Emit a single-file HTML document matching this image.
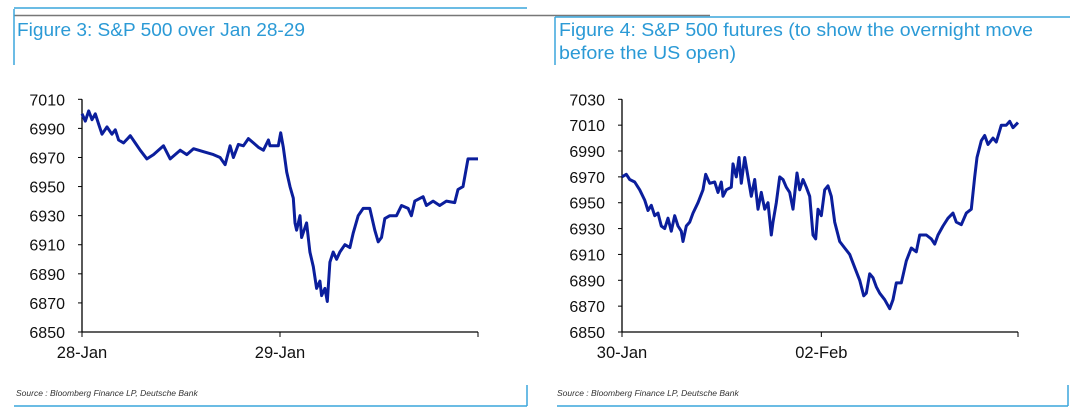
<!DOCTYPE html>
<html><head><meta charset="utf-8"><style>
body{margin:0;width:1080px;height:415px;background:#fff;overflow:hidden;font-family:"Liberation Sans",sans-serif}
svg{position:absolute;left:0;top:0}
.t{font-family:"Liberation Sans Narrow","Liberation Sans",sans-serif}
</style></head><body>
<svg id="s" width="1080" height="415">
<line x1="14" y1="8" x2="527" y2="8" stroke="#3aa6dc" stroke-width="1.5"/>
<line x1="14" y1="15.5" x2="710" y2="15.5" stroke="#777" stroke-width="1.5"/>
<line x1="14" y1="9" x2="14" y2="65" stroke="#3aa6dc" stroke-width="1.5"/>
<line x1="555" y1="17" x2="1070" y2="17" stroke="#3aa6dc" stroke-width="1.5"/>
<line x1="555" y1="17" x2="555" y2="65" stroke="#3aa6dc" stroke-width="1.5"/>
<text class="t" x="17" y="36" font-size="18" fill="#2b9ad6" textLength="288" lengthAdjust="spacingAndGlyphs">Figure 3: S&amp;P 500 over Jan 28-29</text>
<text class="t" x="559" y="36" font-size="18" fill="#2b9ad6" textLength="474" lengthAdjust="spacingAndGlyphs">Figure 4: S&amp;P 500 futures (to show the overnight move</text>
<text class="t" x="559" y="59" font-size="18" fill="#2b9ad6" textLength="177" lengthAdjust="spacingAndGlyphs">before the US open)</text>
<text x="16" y="396" font-size="8.5" font-style="italic" fill="#333">Source : Bloomberg Finance LP, Deutsche Bank</text>
<text x="557" y="396" font-size="8.5" font-style="italic" fill="#333">Source : Bloomberg Finance LP, Deutsche Bank</text>
<line x1="14" y1="406" x2="527" y2="406" stroke="#3aa6dc" stroke-width="1.5"/>
<line x1="527" y1="385" x2="527" y2="406" stroke="#3aa6dc" stroke-width="1.5"/>
<line x1="557" y1="406" x2="1068" y2="406" stroke="#3aa6dc" stroke-width="1.5"/>
<line x1="1068" y1="385" x2="1068" y2="406" stroke="#3aa6dc" stroke-width="1.5"/>
</svg>
<script>
const c1Times=[0,10,20,30,40,50,60,75,90,100,110,125,145,160,175,195,215,245,265,295,315,335,365,395,415,430,445,455,470,485,500,515,530,545,560,565,590,597,605,615,625,635,640,645,655,660,675,685,695,705,715,720,730,737,745,755,765,775,790,805,815,830,845,865,880,890,900,910,925,945,960,980,990,1000,1025,1035,1055,1075,1095,1120,1130,1145,1160,1190];
const c1Values=[7000,6995,7002,6996,7000,6993,6986,6991,6986,6989,6982,6980,6985,6980,6975,6969,6972,6978,6969,6975,6972,6976,6974,6972,6970,6965,6978,6970,6979,6978,6983,6980,6977,6975,6982,6978,6978,6987,6977,6960,6950,6942,6925,6920,6930,6915,6925,6905,6895,6880,6885,6875,6880,6871,6898,6905,6900,6905,6910,6908,6918,6930,6935,6935,6920,6912,6915,6928,6930,6930,6937,6935,6930,6940,6943,6937,6940,6937,6940,6939,6948,6950,6969,6969];
const c1Ticks=[6850,6870,6890,6910,6930,6950,6970,6990,7010];
const c1XLabels=["28-Jan","29-Jan"];const c1XLabelPos=[0,595];
const c2Times=[0,13,23,38,53,68,78,88,98,108,118,128,138,148,158,168,178,183,193,203,213,228,243,251,263,278,288,298,303,313,328,333,343,351,358,368,378,388,398,408,418,428,438,448,453,463,473,483,493,503,513,525,533,543,553,563,573,581,588,598,608,618,628,638,653,668,683,698,713,725,733,743,753,763,773,788,803,813,823,838,853,868,883,893,913,928,938,948,963,978,993,1003,1018,1033,1048,1058,1065,1078,1088,1098,1113,1123,1138,1153,1163,1173,1188];
const c2Values=[6970,6972,6968,6966,6960,6952,6944,6948,6940,6942,6932,6930,6938,6928,6940,6932,6928,6920,6932,6935,6942,6950,6960,6972,6965,6966,6958,6966,6955,6960,6962,6980,6970,6985,6965,6985,6970,6955,6968,6945,6958,6945,6950,6925,6935,6950,6970,6968,6962,6958,6945,6973,6960,6968,6962,6955,6925,6922,6945,6940,6960,6963,6955,6935,6920,6915,6910,6900,6890,6878,6880,6895,6892,6885,6880,6875,6868,6875,6888,6888,6905,6915,6912,6925,6925,6922,6918,6925,6932,6938,6942,6935,6933,6942,6945,6970,6985,6998,7002,6995,7000,6997,7010,7010,7013,7008,7012];
const c2Ticks=[6850,6870,6890,6910,6930,6950,6970,6990,7010,7030];
const c2XLabels=["30-Jan","02-Feb"];const c2XLabelPos=[0,598];
const NS="http://www.w3.org/2000/svg",svg=document.getElementById('s');
function mk(t,a){const e=document.createElementNS(NS,t);for(const k in a)e.setAttribute(k,a[k]);svg.appendChild(e);return e;}
function chart(id,times,vals,ticks,xl,xlp,x0,x1,tmax,y0,y1){
 const vmin=ticks[0],vmax=ticks[ticks.length-1];
 const sx=t=>x0+(t/tmax)*(x1-x0), sy=v=>y1-(v-vmin)/(vmax-vmin)*(y1-y0);
 let a=mk('line',{x1:x0,y1:y0,x2:x0,y2:y1,stroke:'#000','stroke-width':1.3});
 
 
 a=mk('line',{x1:x0,y1:y1,x2:x1,y2:y1,stroke:'#000','stroke-width':1.3});
 
 
 ticks.forEach(v=>{const y=sy(v);
  const l=mk('line',{x1:x0-4,y1:y,x2:x0,y2:y,stroke:'#000'});
  
  
  const t=mk('text',{x:x0-17,y:y+6,'font-size':16,'text-anchor':'end',fill:'#111'});t.textContent=v;
  
  });
 xl.forEach((s,i)=>{const x=sx(xlp[i]);
  const l=mk('line',{x1:x,y1:y1,x2:x,y2:y1+5,stroke:'#000'});
  
  
  const t=mk('text',{x:x,y:y1+26,'font-size':16.5,'text-anchor':'middle',fill:'#111'});t.textContent=s;
  
  });
 const l=mk('line',{x1:x1,y1:y1,x2:x1,y2:y1+5,stroke:'#000'});
 
 
 const p=mk('path',{d:times.map((t,i)=>(i?'L':'M')+sx(t).toFixed(1)+','+sy(vals[i]).toFixed(1)).join(''),fill:'none',stroke:'#0b1e9c','stroke-width':3,'stroke-linejoin':'round'});
 
 
}
chart('fig3',c1Times,c1Values,c1Ticks,c1XLabels,c1XLabelPos,82,478,1190,99.3,332);
chart('fig4',c2Times,c2Values,c2Ticks,c2XLabels,c2XLabelPos,622,1018,1188,99.3,332);
</script>
</body></html>
